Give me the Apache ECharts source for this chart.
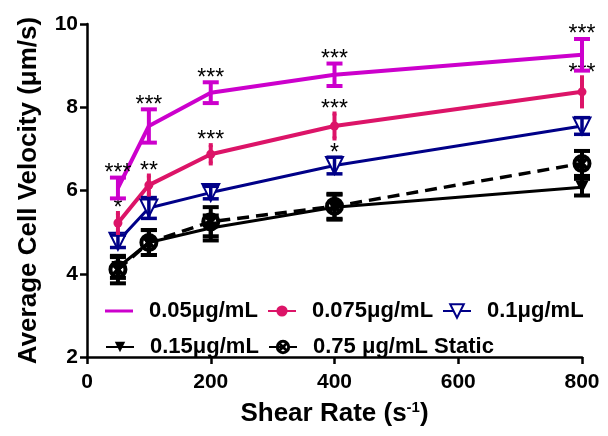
<!DOCTYPE html>
<html><head><meta charset="utf-8">
<script src="https://cdn.jsdelivr.net/npm/echarts@6/dist/echarts.min.js"></script>
<style>html,body{margin:0;padding:0;background:#fff}#c{width:608px;height:436px}</style>
</head><body><div id="c"></div>
<script>
const shearRates = [50, 100, 200, 400, 800];
const xTicks = [0, 200, 400, 600, 800];
const yTicks = [2, 4, 6, 8, 10];

const names = ['0.05\u03bcg/mL', '0.075\u03bcg/mL', '0.1\u03bcg/mL', '0.15\u03bcg/mL', '0.75 \u03bcg/mL Static'];

const mean005 = [6.06, 7.55, 8.35, 8.78, 9.26];
const err005 = [0.25, 0.40, 0.25, 0.27, 0.38];
const stars005 = ['***', '***', '***', '***', '***'];

const mean0075 = [5.22, 6.13, 6.87, 7.55, 8.37];
const err0075 = [0.24, 0.23, 0.22, 0.30, 0.35];
const stars0075 = ['*', '**', '***', '***', '***'];

const mean01 = [4.78, 5.58, 5.95, 6.60, 7.55];
const err01 = [0.15, 0.25, 0.15, 0.20, 0.20];
const stars01 = ['', '', '', '*', ''];

const mean015 = [4.15, 4.75, 5.10, 5.60, 6.08];
const err015 = [0.25, 0.30, 0.30, 0.30, 0.20];
const stars015 = ['', '', '', '', ''];

const meanStatic = [4.10, 4.75, 5.25, 5.62, 6.65];
const errStatic = [0.33, 0.30, 0.35, 0.30, 0.30];
const starsStatic = ['', '', '', '', ''];

const FONT = '"Liberation Sans", Arial, sans-serif';
const staticSymbol = 'path://M10 0A10 10 0 1 1 10 20A10 10 0 1 1 10 0Z M10 4.2A5.8 5.8 0 1 0 10 15.8A5.8 5.8 0 1 0 10 4.2Z M5.4 2.6L17.4 14.6L14.6 17.4L2.6 5.4Z M17.4 5.4L5.4 17.4L2.6 14.6L14.6 2.6Z';

function pairs(means) { return shearRates.map((x, i) => [x, means[i]]); }
function triples(means, errs) { return shearRates.map((x, i) => [x, means[i], errs[i]]); }

function errSeries(means, errs, stars, color, capHalf, width) {
  return {
    type: 'custom',
    encode: { x: 0, y: 1 },
    z: 5,
    silent: true,
    data: triples(means, errs),
    renderItem: function (params, api) {
      const x = api.value(0), m = api.value(1), e = api.value(2);
      const t = api.coord([x, m + e]);
      const b = api.coord([x, m - e]);
      const st = { stroke: color, lineWidth: width };
      const children = [
        { type: 'line', shape: { x1: t[0], y1: t[1], x2: b[0], y2: b[1] }, style: st },
        { type: 'line', shape: { x1: t[0] - capHalf, y1: t[1], x2: t[0] + capHalf, y2: t[1] }, style: st },
        { type: 'line', shape: { x1: b[0] - capHalf, y1: b[1], x2: b[0] + capHalf, y2: b[1] }, style: st }
      ];
      const s = stars[params.dataIndex];
      if (s) {
        children.push({ type: 'text', style: { text: s, x: t[0], y: t[1] - 4, fill: '#000', font: '23px ' + FONT, align: 'center', verticalAlign: 'middle' } });
      }
      return { type: 'group', children: children };
    }
  };
}

const C1 = '#cc00cc', C2 = '#dc1468', C3 = '#000088', C4 = '#000000';

function legendAt(item, left, top, h) {
  return {
    data: [item], left: left, top: top, itemWidth: 28, itemHeight: h,
    textStyle: { fontFamily: FONT, fontWeight: 'bold', fontSize: 22, color: '#000', padding: [0, 0, 0, 11] },
    padding: 0
  };
}

const chart = echarts.init(document.getElementById('c'), null, { renderer: 'canvas' });
chart.setOption({
  animation: false,
  backgroundColor: '#fff',
  grid: { left: 87, right: 26, top: 24, bottom: 79 },
  legend: [
    legendAt({ name: names[0], icon: 'rect', itemStyle: { color: C1 } }, 105, 300, 3),
    legendAt(names[1], 267, 300, 14),
    legendAt(names[2], 442, 300, 17),
    legendAt(names[3], 105, 336, 13),
    legendAt(names[4], 268, 336, 18)
  ],
  xAxis: {
    type: 'value', min: xTicks[0], max: xTicks[xTicks.length - 1], interval: xTicks[1] - xTicks[0],
    name: '{a|Shear Rate (s}{b|-1}{a|)}', nameLocation: 'middle', nameGap: 43,
    nameTextStyle: { rich: { a: { fontFamily: FONT, fontWeight: 'bold', fontSize: 26, color: '#000' }, b: { fontFamily: FONT, fontWeight: 'bold', fontSize: 15, color: '#000', verticalAlign: 'top', padding: [0, 0, 12, 0] } } },
    axisLine: { lineStyle: { color: '#000', width: 2.5 } },
    axisTick: { length: 7, lineStyle: { color: '#000', width: 2.5 } },
    axisLabel: { fontFamily: FONT, fontWeight: 'bold', fontSize: 21, color: '#000', margin: 15 },
    splitLine: { show: false }
  },
  yAxis: {
    type: 'value', min: yTicks[0], max: yTicks[yTicks.length - 1], interval: yTicks[1] - yTicks[0],
    name: 'Average Cell Velocity (\u03bcm/s)', nameLocation: 'middle', nameGap: 45,
    nameTextStyle: { fontFamily: FONT, fontWeight: 'bold', fontSize: 26, color: '#000' },
    axisLine: { show: true, lineStyle: { color: '#000', width: 2.5 } },
    axisTick: { show: true, length: 7, lineStyle: { color: '#000', width: 2.5 } },
    axisLabel: { fontFamily: FONT, fontWeight: 'bold', fontSize: 21, color: '#000', margin: 9 },
    splitLine: { show: false }
  },
  series: [
    { name: names[3], type: 'line', data: pairs(mean015), symbol: 'triangle', symbolRotate: 180, symbolSize: 13,
      itemStyle: { color: C4 }, lineStyle: { color: C4, width: 3 }, z: 2 },
    { name: names[4], type: 'line', data: pairs(meanStatic), symbol: staticSymbol, symbolSize: 19,
      itemStyle: { color: C4 }, lineStyle: { color: C4, width: 3.5, type: [12, 7] }, z: 2 },
    { name: names[2], type: 'line', data: pairs(mean01), symbol: 'emptyTriangle', symbolRotate: 180, symbolSize: 17,
      itemStyle: { color: C3, borderWidth: 3 }, lineStyle: { color: C3, width: 3 }, z: 3 },
    { name: names[1], type: 'line', data: pairs(mean0075), symbol: 'circle', symbolSize: 9,
      itemStyle: { color: C2 }, lineStyle: { color: C2, width: 4 }, z: 3 },
    { name: names[0], type: 'line', data: pairs(mean005), symbol: 'none',
      itemStyle: { color: C1 }, lineStyle: { color: C1, width: 4 }, z: 3 },
    errSeries(mean015, err015, stars015, C4, 8, 4),
    errSeries(meanStatic, errStatic, starsStatic, C4, 8, 4),
    errSeries(mean01, err01, stars01, C3, 8, 3.5),
    errSeries(mean0075, err0075, stars0075, C2, 2, 4),
    errSeries(mean005, err005, stars005, C1, 8, 4)
  ]
});
</script></body></html>
